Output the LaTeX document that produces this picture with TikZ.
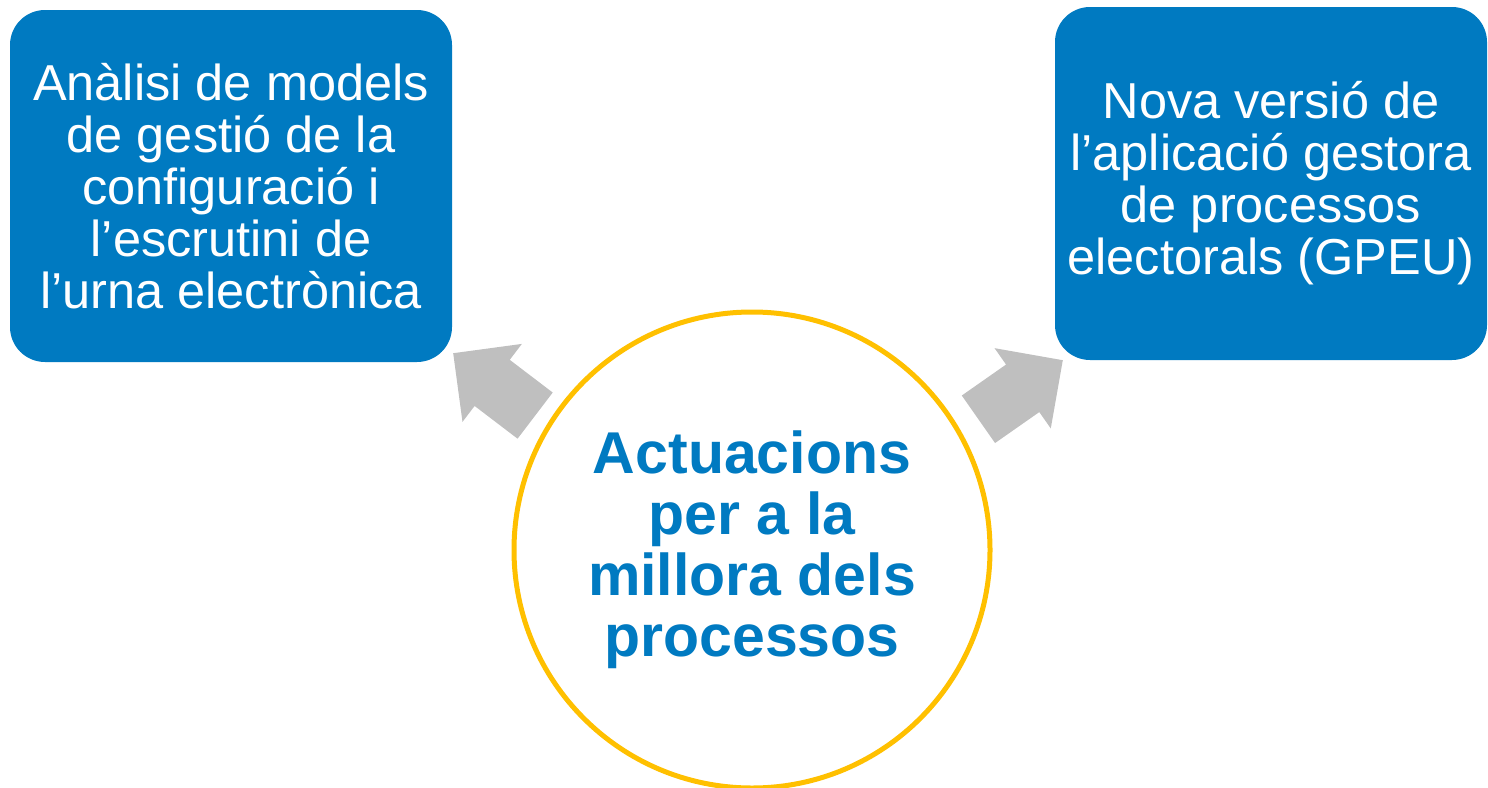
\documentclass[tikz,border=0pt]{standalone}
\usepackage{fontspec}
\setmainfont{Liberation Sans}
\definecolor{boxblue}{RGB}{0,122,193}
\definecolor{ringyellow}{RGB}{255,192,0}
\definecolor{arrowgray}{RGB}{191,191,191}

\begin{document}
\begin{tikzpicture}[x=1pt, y=-1pt,
  box/.style={fill=boxblue, rounded corners=35pt, text=white, align=center,
    inner sep=0pt, font=\fontsize{50.5}{52}\selectfont},
  hub/.style={circle, draw=ringyellow, line width=5pt, fill=white,
    minimum size=476pt, inner sep=0pt, text=boxblue, align=center,
    font=\bfseries\fontsize{59}{61}\selectfont},
  pics/bigarrow/.style={code={
    \fill[arrowgray] (0,0) -- (-49,49) -- (-49,29) -- (-103,29)
      -- (-103,-29) -- (-49,-29) -- (-49,-49) -- cycle;}}]

\useasboundingbox (0,0) rectangle (1488,787);

\node [hub] (actuacions) at (752,550)
  {Actuacions\\per a la\\millora dels\\processos};

\node [box, minimum width=442pt, minimum height=352pt] (analisi) at (231,186)
  {Anàlisi de models\\de gestió de la\\configuració i\\l’escrutini de\\l’urna electrònica};

\node [box, minimum width=432pt, minimum height=353pt] (gpeu) at (1271,183.5)
  {Nova versió de\\l’aplicació gestora\\de processos\\electorals (GPEU)};

% arrows from the hub to the boxes
\pic [rotate=142.7] at ([shift={(1,-9)}]analisi.south east) {bigarrow};
\pic [rotate=35] at ([shift={(8,0)}]gpeu.south west) {bigarrow};

\end{tikzpicture}
\end{document}
